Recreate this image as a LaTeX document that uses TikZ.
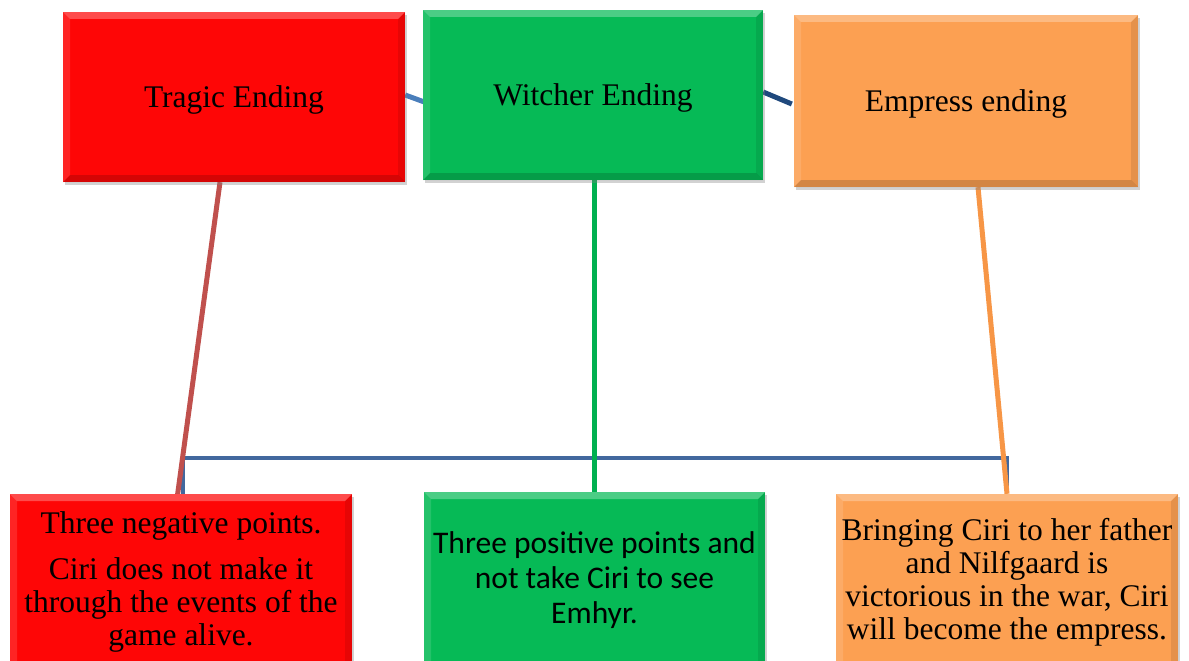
\documentclass[tikz,border=0pt]{standalone}
\usepackage{fontspec}
\setmainfont{Liberation Serif}
\newfontfamily\calibfont{Carlito}
\usetikzlibrary{shadows,backgrounds}
\definecolor{cRed}{RGB}{254,6,6}
\definecolor{cGreen}{RGB}{6,186,86}
\definecolor{cOrange}{RGB}{252,160,82}
\definecolor{lRed}{RGB}{192,80,77}
\definecolor{lGreen}{RGB}{0,176,80}
\definecolor{lOrange}{RGB}{247,150,70}
\definecolor{lBlue}{RGB}{66,104,158}
\definecolor{lBlueLight}{RGB}{74,126,187}
\definecolor{lNavy}{RGB}{31,73,125}
\def\bv{7pt}
\tikzset{
  box/.style={draw=none, minimum width=342pt, minimum height=170pt, inner sep=0pt,
    align=center, font=\fontsize{31.5}{33}\selectfont,
    drop shadow={shadow xshift=2pt, shadow yshift=-3pt, opacity=.35},
    path picture={
      \fill[white,opacity=.28] (path picture bounding box.north west) -- (path picture bounding box.north east)
        -- ([xshift=-\bv,yshift=-\bv]path picture bounding box.north east) -- ([xshift=\bv,yshift=-\bv]path picture bounding box.north west) -- cycle;
      \fill[white,opacity=.12] (path picture bounding box.north west) -- ([xshift=\bv,yshift=-\bv]path picture bounding box.north west)
        -- ([xshift=\bv,yshift=\bv]path picture bounding box.south west) -- (path picture bounding box.south west) -- cycle;
      \fill[black,opacity=.09] (path picture bounding box.north east) -- ([xshift=-\bv,yshift=-\bv]path picture bounding box.north east)
        -- ([xshift=-\bv,yshift=\bv]path picture bounding box.south east) -- (path picture bounding box.south east) -- cycle;
      \fill[black,opacity=.16] (path picture bounding box.south west) -- ([xshift=\bv,yshift=\bv]path picture bounding box.south west)
        -- ([xshift=-\bv,yshift=\bv]path picture bounding box.south east) -- (path picture bounding box.south east) -- cycle;
    }},
  topbox/.style={box, text depth=0pt},
  link/.style={line width=5pt},
}
\begin{document}
\begin{tikzpicture}[x=1pt,y=-1pt]
\useasboundingbox (0,0) rectangle (1189,661);
\node[topbox,fill=cRed] (tragic) at (234,97) {Tragic Ending};
\node[topbox,fill=cGreen,minimum width=340pt] (witcher) at (593,95) {Witcher Ending};
\node[topbox,fill=cOrange,minimum width=344pt,minimum height=172pt] (empress) at (966,101) {Empress ending};
\node[box,fill=cRed,minimum height=176pt] (neg) at (181,582) {Three negative points.\\[13pt] Ciri does not make it\\ through the events of the\\ game alive.};
\node[box,fill=cGreen,minimum width=341pt,minimum height=176pt,font=\calibfont\fontsize{31.5}{35}\selectfont] (pos) at (594.5,580) {Three positive points and\\ not take Ciri to see\\ Emhyr.};
\node[box,fill=cOrange,minimum height=176pt] (emp) at (1007,582) {Bringing Ciri to her father\\ and Nilfgaard is\\ victorious in the war, Ciri\\ will become the empress.};
\begin{scope}[on background layer]
\fill[white] (0,0) rectangle (1189,661);
\coordinate (hl) at ([xshift=2pt]neg.north);
\coordinate (hr) at (1007,493);
\draw[lBlue,line width=4pt] (hl) -- (hl |- 0,458) -- (hr |- 0,458) -- (hr);
\draw[link,lRed] ([xshift=-14pt]tragic.south) -- ([xshift=-4pt,yshift=-5pt]neg.north);
\draw[link,lGreen] (witcher.south -| pos.north) -- (pos.north);
\draw[link,lOrange] ([xshift=12pt]empress.south) -- (emp.north);
\draw[link,lBlueLight] ([yshift=2pt]tragic.east) -- ([xshift=7pt,yshift=-9pt]witcher.west);
\draw[link,lNavy] ([yshift=3pt]witcher.east) -- ([xshift=-2pt,yshift=-3pt]empress.west);
\end{scope}
\end{tikzpicture}
\end{document}
